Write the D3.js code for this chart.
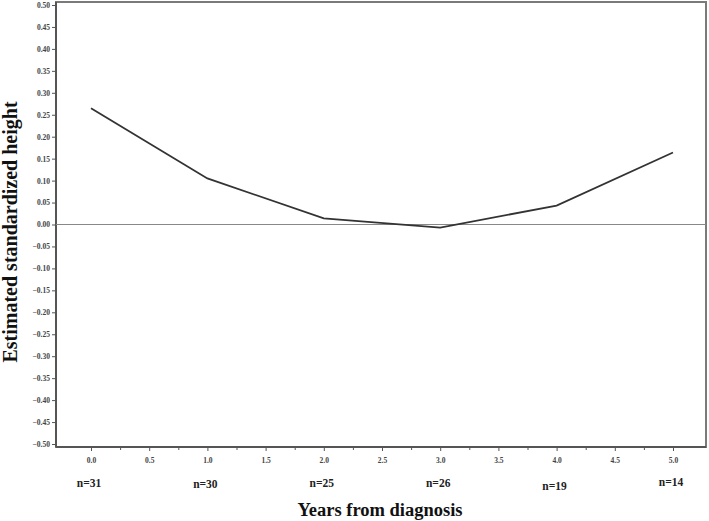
<!DOCTYPE html>
<html><head><meta charset="utf-8">
<script src="https://cdn.jsdelivr.net/npm/d3@7"></script>
<style>body{margin:0;background:#fff}</style>
</head><body>
<svg id="c" width="709" height="521"></svg>
<script>
const years = [0, 1, 2, 3, 4, 5];
const heights = [0.265, 0.105, 0.014, -0.007, 0.043, 0.164];
const nLabels = ["n=31", "n=30", "n=25", "n=26", "n=19", "n=14"];
const xTicks = [0, 0.5, 1, 1.5, 2, 2.5, 3, 3.5, 4, 4.5, 5];
const xMinorTicks = [0.25, 0.75, 1.25, 1.75, 2.25, 2.75, 3.25, 3.75, 4.25, 4.75];
const yTicks = d3.range(-10, 11).map(i => i * 0.05);

const svg = d3.select("#c");
const pL = 56, pR = 706, pT = 2, pB = 447;
const x = d3.scaleLinear().domain([0, 5]).range([91, 673]);
const y = d3.scaleLinear().domain([-0.5, 0.5]).range([444, 5]);
const font = "Liberation Serif, Times New Roman, serif";

// frame
svg.append("rect").attr("x", pL).attr("y", pT).attr("width", pR - pL).attr("height", pB - pT)
  .attr("fill", "none").attr("stroke", "#7a7a7a").attr("stroke-width", 2);
svg.append("line").attr("x1", pL).attr("x2", pL).attr("y1", pT).attr("y2", pB)
  .attr("stroke", "#555").attr("stroke-width", 2);
svg.append("line").attr("x1", pL).attr("x2", pR).attr("y1", pB).attr("y2", pB)
  .attr("stroke", "#555").attr("stroke-width", 2);

// y axis
const ya = svg.append("g").attr("transform", `translate(${pL},0)`)
  .call(d3.axisLeft(y).tickValues(yTicks).tickSize(4).tickFormat(d => d3.format(".2f")(Math.abs(d) < 1e-9 ? 0 : d)));
ya.select(".domain").remove();
ya.selectAll("line").attr("stroke", "#555");
ya.selectAll("text").attr("font-family", font).attr("font-weight", "bold").attr("font-size", 7.5).attr("fill", "#444").attr("x", -6);

// x axis
const xa = svg.append("g").attr("transform", `translate(0,${pB})`)
  .call(d3.axisBottom(x).tickValues(xTicks).tickSize(4).tickFormat(d3.format(".1f")));
xa.select(".domain").remove();
xa.selectAll("line").attr("stroke", "#555");
xa.selectAll("text").attr("font-family", font).attr("font-weight", "bold").attr("font-size", 7.5).attr("fill", "#444").attr("dy", "1.2em");
const xm = svg.append("g").attr("transform", `translate(0,${pB})`)
  .call(d3.axisBottom(x).tickValues(xMinorTicks).tickSize(3).tickFormat(""));
xm.select(".domain").remove();
xm.selectAll("line").attr("stroke", "#555");

// zero line
svg.append("line").attr("x1", pL).attr("x2", pR).attr("y1", y(0)).attr("y2", y(0))
  .attr("stroke", "#888").attr("stroke-width", 1);

// data line
const line = d3.line().x((d, i) => x(years[i])).y(d => y(d));
svg.append("path").datum(heights).attr("d", line).attr("fill", "none")
  .attr("stroke", "#333").attr("stroke-width", 1.8);

// n labels
const nOff = [0, 1, 0, 0, 3, -1];
svg.selectAll("text.n").data(nLabels).enter().append("text").attr("class", "n")
  .attr("x", (d, i) => x(years[i]) - 2).attr("y", (d, i) => 487 + nOff[i])
  .attr("text-anchor", "middle").attr("font-family", font).attr("font-weight", "bold")
  .attr("font-size", 11.5).attr("fill", "#222").text(d => d);

// axis titles
svg.append("text").attr("x", 380).attr("y", 516).attr("text-anchor", "middle")
  .attr("font-family", font).attr("font-weight", "bold").attr("font-size", 18.5).attr("fill", "#111")
  .text("Years from diagnosis");
svg.append("text").attr("transform", "translate(17,232) rotate(-90)").attr("text-anchor", "middle")
  .attr("font-family", font).attr("font-weight", "bold").attr("font-size", 20).attr("fill", "#111")
  .text("Estimated standardized height");
</script>
</body></html>
